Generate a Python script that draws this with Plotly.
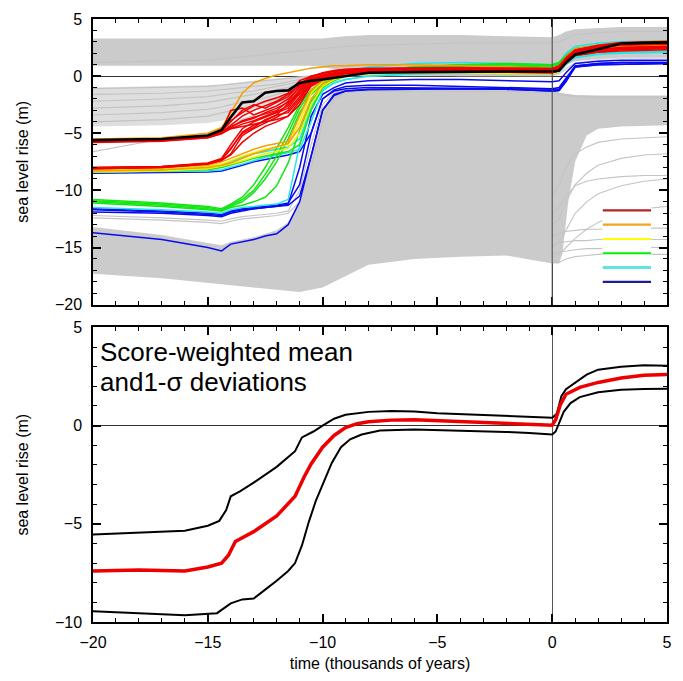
import plotly.graph_objects as go

# ---------------- data (time in thousands of years) ----------------
T = [-20, -17, -15, -14.4, -14.0, -13.5, -13, -12.5, -12, -11.5, -11, -10.5, -10,
     -9.5, -9, -8, -6, -4, -2, 0, 0.3, 0.6, 1, 2, 3, 5]

# best-scoring run (black)
BEST = [-5.6, -5.5, -5.2, -4.7, -3.6, -2.3, -2.2, -1.45, -1.3, -1.25, -0.6, -0.4, -0.3,
        -0.15, 0.0, 0.3, 0.35, 0.4, 0.4, 0.4, 0.5, 1.2, 1.9, 2.35, 2.85, 2.95]

# scored runs, grouped by score class
RED_RUNS = [
    [-5.7, -5.6, -5.3, -4.9, -4.3, -3.5, -3.0, -2.6, -2.2, -1.6, -0.8, -0.2, 0.1,
     0.3, 0.4, 0.5, 0.6, 0.6, 0.6, 0.5, 0.7, 1.5, 2.2, 2.6, 2.9, 3.0],
    [-5.8, -5.7, -5.4, -5.0, -4.6, -4.2, -3.9, -3.5, -3.1, -2.6, -1.3, -0.5, -0.1,
     0.2, 0.35, 0.5, 0.55, 0.6, 0.55, 0.5, 0.7, 1.3, 2.0, 2.3, 2.5, 2.6],
    [-5.6, -5.5, -5.2, -4.8, -3.0, -2.8, -3.4, -3.0, -2.6, -2.0, -1.0, -0.3, 0.0,
     0.2, 0.3, 0.4, 0.45, 0.45, 0.4, 0.35, 0.5, 1.2, 1.9, 2.2, 2.4, 2.5],
    [-5.7, -5.6, -5.35, -5.0, -4.6, -4.4, -4.2, -4.0, -3.8, -3.5, -2.5, -0.8, -0.3,
     0.0, 0.2, 0.3, 0.4, 0.4, 0.35, 0.3, 0.45, 1.1, 1.8, 2.1, 2.3, 2.4],
    [-5.65, -5.55, -5.25, -4.85, -3.9, -3.2, -2.6, -2.2, -1.9, -1.5, -0.4, 0.0, 0.2,
     0.4, 0.5, 0.6, 0.7, 0.7, 0.7, 0.7, 0.9, 1.6, 2.3, 2.7, 2.95, 3.05],
    [-5.75, -5.65, -5.4, -5.05, -4.5, -3.9, -3.6, -3.3, -3.0, -2.2, -0.9, -0.1, 0.3,
     0.5, 0.6, 0.7, 0.75, 0.75, 0.7, 0.65, 0.85, 1.6, 2.3, 2.6, 2.8, 2.9],
    [-5.6, -5.5, -5.2, -4.8, -4.0, -3.0, -2.5, -2.8, -2.3, -1.8, -0.7, 0.0, 0.25,
     0.45, 0.55, 0.65, 0.65, 0.6, 0.6, 0.55, 0.7, 1.4, 2.1, 2.5, 2.7, 2.8],
    [-5.7, -5.6, -5.3, -4.95, -4.4, -4.0, -3.7, -3.2, -2.8, -2.3, -1.6, -0.4, 0.0,
     0.2, 0.3, 0.4, 0.45, 0.45, 0.45, 0.45, 0.6, 1.3, 2.0, 2.3, 2.5, 2.6],
    [-8.0, -7.9, -7.6, -7.2, -6.0, -4.6, -4.0, -3.6, -3.2, -2.8, -1.5, -0.5, -0.1,
     0.2, 0.35, 0.5, 0.5, 0.5, 0.45, 0.4, 0.6, 1.4, 2.1, 2.5, 2.8, 2.9],
    [-8.1, -8.0, -7.7, -7.4, -6.8, -5.2, -4.6, -4.1, -3.6, -3.0, -1.8, -0.6, -0.2,
     0.1, 0.3, 0.45, 0.5, 0.5, 0.45, 0.4, 0.55, 1.2, 1.9, 2.2, 2.4, 2.5],
    [-8.05, -7.95, -7.65, -7.3, -6.4, -4.9, -4.3, -3.9, -3.4, -2.4, -1.2, -0.3, 0.0,
     0.25, 0.4, 0.6, 0.65, 0.65, 0.6, 0.6, 0.8, 1.5, 2.2, 2.6, 2.9, 3.0],
    [-8.0, -7.9, -7.65, -7.3, -6.3, -5.0, -4.5, -3.8, -3.4, -3.2, -2.0, -0.7, -0.1,
     0.2, 0.4, 0.55, 0.6, 0.6, 0.55, 0.5, 0.7, 1.5, 2.2, 2.6, 2.9, 3.0],
    [-8.1, -8.0, -7.7, -7.35, -6.9, -5.8, -5.0, -4.4, -4.0, -3.5, -2.2, -0.9, -0.3,
     0.1, 0.25, 0.35, 0.4, 0.4, 0.35, 0.3, 0.5, 1.2, 1.8, 2.1, 2.2, 2.3],
]
ORANGE_RUNS = [
    [-5.5, -5.4, -5.0, -4.5, -3.2, -1.5, -0.6, -0.2, 0.1, 0.3, 0.5, 0.7, 0.8,
     0.9, 0.9, 1.0, 1.0, 0.9, 0.8, 0.7, 0.9, 1.7, 2.4, 2.7, 2.9, 3.0],
    [-8.1, -8.0, -7.8, -7.5, -7.2, -6.8, -6.4, -6.1, -5.9, -5.7, -3.5, -1.2, -0.4,
     0.0, 0.2, 0.4, 0.5, 0.5, 0.5, 0.4, 0.6, 1.4, 2.0, 2.4, 2.6, 2.7],
    [-8.3, -8.2, -8.0, -7.8, -7.6, -7.2, -6.8, -6.5, -6.2, -5.9, -4.5, -2.0, -0.7,
     -0.2, 0.1, 0.3, 0.45, 0.45, 0.4, 0.3, 0.5, 1.2, 1.8, 2.1, 2.3, 2.4],
]
YELLOW_RUNS = [
    [-8.2, -8.1, -7.9, -7.7, -7.4, -7.0, -6.7, -6.4, -6.2, -6.0, -4.0, -1.5, -0.5,
     0.0, 0.3, 0.6, 0.7, 0.7, 0.6, 0.5, 0.8, 1.6, 2.2, 2.6, 2.9, 3.1],
    [-8.4, -8.3, -8.1, -7.9, -7.7, -7.4, -7.1, -6.8, -6.6, -6.3, -5.0, -2.5, -0.9,
     -0.3, 0.0, 0.2, 0.3, 0.3, 0.2, 0.2, 0.4, 1.2, 1.9, 2.3, 2.5, 2.6],
]
GREEN_RUNS = [
    [-8.4, -8.3, -8.2, -8.0, -7.8, -7.5, -7.2, -7.0, -6.8, -6.6, -6.0, -3.0, -1.0,
     -0.3, 0.1, 0.4, 0.7, 0.8, 0.8, 0.9, 1.1, 1.8, 2.4, 2.7, 2.8, 2.9],
    [-10.8, -11.1, -11.4, -11.6, -11.2, -10.6, -9.5, -8.0, -6.3, -4.5, -2.5, -1.2, -0.5,
     -0.1, 0.2, 0.5, 0.8, 1.0, 1.1, 1.0, 1.2, 1.8, 2.4, 2.7, 2.8, 2.9],
    [-11.0, -11.3, -11.6, -11.8, -11.4, -11.0, -10.2, -9.0, -7.5, -5.5, -3.2, -1.6, -0.7,
     -0.2, 0.1, 0.5, 0.8, 1.0, 1.0, 0.9, 1.1, 1.7, 2.3, 2.6, 2.7, 2.8],
    [-11.1, -11.4, -11.7, -11.8, -11.5, -11.3, -11.0, -10.6, -9.6, -7.6, -4.8, -2.2, -1.0,
     -0.4, 0.0, 0.4, 0.7, 0.9, 1.0, 0.9, 1.0, 1.5, 2.0, 2.3, 2.4, 2.5],
    [-10.9, -11.2, -11.5, -11.7, -11.3, -10.8, -10.0, -8.6, -7.0, -5.0, -2.8, -1.4, -0.6,
     -0.2, 0.15, 0.45, 0.75, 0.95, 1.05, 0.95, 1.15, 1.75, 2.35, 2.65, 2.75, 2.85],
]
CYAN_RUNS = [
    [-8.4, -8.35, -8.3, -8.2, -8.0, -7.7, -7.4, -7.1, -6.9, -6.7, -6.4, -4.0, -1.3,
     -0.6, -0.3, 0.0, 0.2, 0.3, 0.2, 0.2, 0.4, 1.0, 1.6, 1.9, 2.0, 2.1],
    [-11.5, -11.7, -11.9, -12.0, -11.7, -11.5, -11.4, -11.3, -11.2, -10.8, -6.0, -2.5, -1.2,
     -0.6, -0.3, 0.0, 0.2, 0.3, 0.3, 0.3, 0.5, 1.1, 1.7, 2.0, 2.1, 2.2],
    [-8.3, -8.2, -8.0, -7.8, -7.5, -7.1, -6.8, -6.6, -6.4, -6.2, -5.5, -2.8, -0.9,
     -0.2, 0.3, 0.8, 1.1, 1.2, 1.1, 1.0, 1.2, 2.0, 2.6, 2.9, 3.0, 3.1],
]
BLUE_RUNS = [
    [-8.5, -8.45, -8.4, -8.3, -8.1, -7.8, -7.5, -7.3, -7.1, -6.9, -6.6, -5.0, -2.0,
     -1.2, -0.9, -0.8, -0.8, -0.9, -1.0, -1.1, -1.0, -0.2, 0.9, 1.1, 1.2, 1.2],
    [-11.6, -11.8, -12.0, -12.1, -11.8, -11.6, -11.5, -11.4, -11.3, -11.1, -9.5, -5.0, -2.0,
     -1.3, -1.1, -1.0, -1.0, -1.05, -1.1, -1.2, -1.15, -0.3, 0.9, 1.1, 1.2, 1.2],
    [-11.9, -12.0, -12.2, -12.3, -12.0, -11.8, -11.6, -11.5, -11.4, -11.3, -10.5, -7.0, -3.0,
     -1.7, -1.3, -1.15, -1.1, -1.1, -1.15, -1.3, -1.25, -0.5, 0.8, 1.0, 1.05, 1.1],
    [-11.7, -11.9, -12.1, -12.2, -11.9, -11.7, -11.6, -11.5, -11.4, -11.2, -8.0, -3.5, -1.6,
     -1.0, -0.6, -0.4, -0.3, -0.3, -0.4, -0.5, -0.4, 0.3, 1.1, 1.3, 1.4, 1.4],
    [-13.7, -14.3, -15.0, -15.3, -14.7, -14.5, -14.3, -14.0, -13.8, -13.0, -11.0, -7.0, -3.0,
     -1.6, -1.3, -1.2, -1.15, -1.1, -1.15, -1.3, -1.25, -0.4, 0.8, 1.0, 1.05, 1.1],
]

# unscored ensemble (grey): envelopes of the dense bundles
UPPER_TOP = [3.3, 3.3, 3.3, 3.3, 3.3, 3.3, 3.3, 3.3, 3.3, 3.3, 3.3, 3.3, 3.3,
             3.4, 3.5, 3.6, 3.6, 3.6, 3.5, 3.4, 3.6, 3.9, 4.1, 4.2, 4.3, 4.3]
UPPER_BOT = [0.9, 0.9, 0.9, 0.9, 0.9, 0.9, 0.9, 0.9, 0.9, 0.9, 0.9, 0.9, 0.8,
             0.6, 0.4, 0.2, 0.1, 0.0, 0.0, 0.0, 0.3, 1.0, 1.3, 1.5, 1.6, 1.6]
MID_TOP = [-1.0, -0.9, -0.8, -0.7, -0.6, -0.5, -0.4, -0.3, -0.2, -0.1, 0.0, 0.1, 0.2,
           0.3, 0.3, 0.3, 0.3, 0.3, 0.3, 0.3, 0.4, 0.8, 1.2, 1.5, 1.6, 1.6]
MID_BOT = [-4.4, -4.3, -4.1, -3.9, -3.6, -3.3, -3.0, -2.7, -2.4, -2.0, -1.4, -0.8, -0.4,
           -0.2, 0.0, 0.0, 0.0, 0.0, 0.0, 0.0, 0.1, 0.5, 1.0, 1.3, 1.5, 1.5]
LOW_TOP = [-13.2, -13.9, -14.6, -14.8, -14.5, -14.3, -14.1, -13.8, -13.5, -12.8, -10.8, -6.8, -2.8,
           -1.5, -1.25, -1.2, -1.15, -1.15, -1.2, -1.3, -1.5, -1.6, -1.7, -1.7, -1.7, -1.7]
LOW_BOT_T = [5, 3, 2, 1.5, 1.0, 0.7, 0.45, 0.3, 0, -2, -4, -6, -8, -9, -10, -11, -12, -13, -15, -17, -20]
LOW_BOT = [-4.3, -4.4, -4.6, -5.2, -7.5, -11.0, -15.5, -16.4, -16.4, -15.7, -15.8, -16.0, -16.5,
           -17.5, -18.5, -18.9, -18.7, -18.5, -18.1, -17.7, -17.3]

GREY_RUNS = [
    [-1.1, -1.0, -0.9, -0.8, -0.7, -0.6, -0.5, -0.4, -0.3, -0.2, -0.1, 0.0, 0.1,
     0.2, 0.3, 0.4, 0.4, 0.4, 0.4, 0.4, 0.6, 1.3, 1.9, 2.3, 2.6, 2.7],
    [-1.6, -1.5, -1.3, -1.2, -1.1, -1.0, -0.9, -0.8, -0.7, -0.5, -0.3, -0.1, 0.0,
     0.1, 0.2, 0.3, 0.3, 0.3, 0.3, 0.3, 0.5, 1.2, 1.8, 2.2, 2.4, 2.5],
    [-2.2, -2.0, -1.8, -1.6, -1.5, -1.4, -1.3, -1.1, -0.9, -0.7, -0.5, -0.2, 0.0,
     0.1, 0.2, 0.3, 0.3, 0.3, 0.3, 0.3, 0.5, 1.2, 1.8, 2.2, 2.4, 2.5],
    [-2.8, -2.6, -2.3, -2.1, -2.0, -1.8, -1.6, -1.4, -1.2, -1.0, -0.6, -0.3, -0.1,
     0.0, 0.1, 0.2, 0.2, 0.2, 0.2, 0.2, 0.4, 1.1, 1.7, 2.1, 2.3, 2.4],
    [-3.4, -3.2, -2.9, -2.7, -2.5, -2.3, -2.1, -1.9, -1.6, -1.3, -0.9, -0.5, -0.2,
     0.0, 0.1, 0.2, 0.2, 0.2, 0.2, 0.2, 0.4, 1.1, 1.7, 2.1, 2.3, 2.4],
    [-4.0, -3.8, -3.5, -3.2, -3.0, -2.8, -2.6, -2.3, -2.0, -1.6, -1.1, -0.6, -0.3,
     0.0, 0.1, 0.2, 0.2, 0.2, 0.2, 0.2, 0.4, 1.1, 1.7, 2.1, 2.3, 2.4],
    [-6.6, -5.5, -5.0, -4.6, -4.2, -3.8, -3.4, -3.0, -2.6, -2.1, -1.5, -0.9, -0.5,
     -0.2, 0.0, 0.1, 0.1, 0.1, 0.1, 0.1, 0.3, 1.0, 1.6, 2.0, 2.2, 2.3],
    [1.2, 1.3, 1.4, 1.5, 1.6, 1.7, 1.8, 1.9, 2.0, 2.1, 2.2, 2.3, 2.4,
     2.5, 2.6, 2.7, 2.8, 2.9, 2.9, 2.9, 3.0, 3.3, 3.6, 3.8, 3.9, 3.9],
    [-12.2, -12.4, -12.6, -12.7, -12.5, -12.3, -12.2, -12.1, -12.0, -11.8, -10.0, -6.0, -2.5,
     -1.4, -1.2, -1.15, -1.1, -1.1, -1.15, -1.25, -1.5, -1.6, -1.7, -1.8, -1.8, -1.8],
    [-12.4, -12.6, -12.8, -12.9, -12.7, -12.5, -12.4, -12.3, -12.2, -12.0, -11.0, -8.0, -4.0,
     -2.0, -1.4, -1.3, -1.3, -1.3, -1.35, -1.4, -1.6, -1.7, -1.8, -1.9, -1.9, -1.9],
]

# grey runs that remain low after year 0
TR = [0, 0.3, 0.6, 1, 1.5, 2, 3, 4, 5]
GREY_LATE = [
    [-16.3, -16.3, -16.0, -15.8, -15.7, -15.6, -15.6, -15.6, -15.6],
    [-15.5, -15.4, -15.3, -15.2, -15.1, -15.1, -15.0, -15.0, -15.0],
    [-14.8, -14.6, -14.5, -14.4, -14.4, -14.3, -14.3, -14.3, -14.3],
    [-14.0, -13.8, -13.6, -13.5, -13.4, -13.4, -13.3, -13.3, -13.3],
    [-15.0, -14.5, -13.5, -12.0, -11.0, -10.3, -9.6, -9.2, -9.0],
    [-13.0, -12.5, -11.0, -9.5, -8.5, -7.8, -7.2, -6.9, -6.8],
    [-10.5, -9.5, -8.0, -6.8, -6.2, -5.8, -5.5, -5.4, -5.3],
    [-12.0, -11.5, -10.5, -9.6, -9.2, -9.0, -8.8, -8.7, -8.7],
    [-15.8, -15.6, -15.0, -14.2, -13.4, -12.8, -12.0, -11.6, -11.4],
]

# score-weighted mean and 1-sigma bounds (lower panel)
MEAN_T = [-20, -18, -16, -15, -14.4, -14.1, -13.8, -13.5, -13, -12, -11.2, -10.8, -10.5, -10,
          -9.5, -9, -8.5, -8, -7, -6, -5, -4, -3, -2, -1, 0, 0.15, 0.35, 0.6, 1.2, 2, 3, 4, 5]
MEAN = [-7.4, -7.35, -7.4, -7.2, -7.0, -6.6, -5.9, -5.7, -5.4, -4.6, -3.6, -2.6, -1.95, -1.1,
        -0.5, -0.1, 0.1, 0.2, 0.28, 0.3, 0.25, 0.2, 0.15, 0.08, 0.05, 0.02, 0.3, 1.05, 1.6, 1.95, 2.2, 2.42, 2.56, 2.6]
UPPER_T = [-20, -18, -16, -15, -14.5, -14.2, -14.0, -13.6, -13, -12, -11.2, -10.9, -10.4, -10,
           -9.5, -9, -8, -7, -6, -5, -4, -3, -2, -1, 0, 0.2, 0.4, 0.6, 1, 1.5, 2, 3, 4, 5]
UPPER = [-5.55, -5.45, -5.35, -5.1, -4.85, -4.3, -3.6, -3.35, -2.9, -2.1, -1.3, -0.6, -0.3, 0.0,
         0.35, 0.55, 0.7, 0.75, 0.72, 0.63, 0.58, 0.52, 0.48, 0.43, 0.4, 0.6, 1.5, 1.85, 2.2, 2.6, 2.85, 3.0, 3.07, 3.05]
LOWER_T = [-20, -18, -16, -14.6, -14.3, -14, -13.5, -13, -12.5, -12, -11.5, -11.2, -10.9, -10.6,
           -10.3, -10, -9.6, -9.2, -8.8, -8.3, -7.5, -6, -4, -2, -1, 0, 0.15, 0.3, 0.5, 0.8, 1.2, 2, 3, 4, 5]
LOWER = [-9.45, -9.55, -9.65, -9.55, -9.3, -9.05, -8.85, -8.8, -8.35, -7.9, -7.4, -7.0, -6.1, -4.9,
         -3.85, -3.0, -1.9, -1.1, -0.7, -0.45, -0.25, -0.2, -0.25, -0.32, -0.37, -0.45, -0.3, 0.1, 0.7, 1.15, 1.45, 1.7, 1.83, 1.87, 1.88]

X_TICKS = [-20, -15, -10, -5, 0, 5]
Y_TICKS_TOP = [5, 0, -5, -10, -15, -20]
Y_TICKS_BOT = [5, 0, -5, -10]

LEGEND_CLASSES = ["class 1", "class 2", "class 3", "class 4", "class 5", "class 6"]
LEGEND_COLORS = ["#b32424", "#f5a31f", "#ffff00", "#00f000", "#5fe3e3", "#1c1c96"]
LEGEND_WIDTHS = [2.2, 2.2, 2.2, 2.2, 3.0, 2.2]

GREY = "#c4c4c4"
FILLGREY = "#cbcbcb"
FONT = "Liberation Sans, Arial, sans-serif"

fig = go.Figure()

# ---- top panel: grey ensemble ----
fig.add_trace(go.Scatter(x=T + T[::-1], y=UPPER_TOP + UPPER_BOT[::-1], fill="toself",
                         fillcolor=FILLGREY, line=dict(width=0), mode="lines",
                         hoverinfo="skip", showlegend=False, xaxis="x", yaxis="y"))
fig.add_trace(go.Scatter(x=T + T[::-1], y=MID_TOP + MID_BOT[::-1], fill="toself",
                         fillcolor="rgba(200,200,200,0.6)", line=dict(width=0), mode="lines",
                         hoverinfo="skip", showlegend=False, xaxis="x", yaxis="y"))
fig.add_trace(go.Scatter(x=T + LOW_BOT_T, y=LOW_TOP + LOW_BOT, fill="toself",
                         fillcolor=FILLGREY, line=dict(width=0), mode="lines",
                         hoverinfo="skip", showlegend=False, xaxis="x", yaxis="y"))
for run in GREY_RUNS:
    fig.add_trace(go.Scatter(x=T, y=run, mode="lines", line=dict(color=GREY, width=1.2),
                             hoverinfo="skip", showlegend=False, xaxis="x", yaxis="y"))
for run in GREY_LATE:
    fig.add_trace(go.Scatter(x=TR, y=run, mode="lines", line=dict(color=GREY, width=1.1),
                             hoverinfo="skip", showlegend=False, xaxis="x", yaxis="y"))

# ---- top panel: scored runs ----
groups = [(BLUE_RUNS, "#0a0af0"), (CYAN_RUNS, "#22e6e6"), (GREEN_RUNS, "#14e614"),
          (YELLOW_RUNS, "#f2f200"), (ORANGE_RUNS, "#f5a000"), (RED_RUNS, "#f00000")]
for runs, col in groups:
    for run in runs:
        fig.add_trace(go.Scatter(x=T, y=run, mode="lines", line=dict(color=col, width=1.5),
                                 hoverinfo="skip", showlegend=False, xaxis="x", yaxis="y"))
fig.add_trace(go.Scatter(x=T, y=BEST, mode="lines", line=dict(color="black", width=2.6),
                         hoverinfo="skip", showlegend=False, xaxis="x", yaxis="y"))

# ---- legend swatches (own small axes) ----
for i, (name, col, w) in enumerate(zip(LEGEND_CLASSES, LEGEND_COLORS, LEGEND_WIDTHS)):
    fig.add_trace(go.Scatter(x=[0, 1], y=[i, i], mode="lines", name=name,
                             line=dict(color=col, width=w), hoverinfo="skip",
                             showlegend=False, xaxis="x3", yaxis="y3"))

# ---- bottom panel ----
fig.add_trace(go.Scatter(x=UPPER_T, y=UPPER, mode="lines", line=dict(color="black", width=2),
                         showlegend=False, xaxis="x2", yaxis="y2"))
fig.add_trace(go.Scatter(x=LOWER_T, y=LOWER, mode="lines", line=dict(color="black", width=2),
                         showlegend=False, xaxis="x2", yaxis="y2"))
fig.add_trace(go.Scatter(x=MEAN_T, y=MEAN, mode="lines", line=dict(color="#ee0000", width=3.5),
                         showlegend=False, xaxis="x2", yaxis="y2"))

tickfont = dict(family=FONT, size=16, color="black")
common_x = dict(range=[-20, 5], tickvals=X_TICKS, ticks="inside", ticklen=8, tickwidth=1.5,
                tickcolor="black", showline=True, linecolor="black", linewidth=1.5,
                mirror="ticks", showgrid=False, zeroline=True, zerolinecolor="#555555",
                zerolinewidth=1, ticklabelstandoff=5,
                minor=dict(dtick=1, ticks="inside", ticklen=4, tickwidth=1.2, tickcolor="black"),
                tickfont=tickfont)
common_y = dict(ticks="inside", ticklen=8, tickwidth=1.5, tickcolor="black", showline=True,
                linecolor="black", linewidth=1.5, mirror="ticks", showgrid=False,
                zeroline=True, zerolinecolor="#333333", zerolinewidth=1,
                minor=dict(dtick=1, ticks="inside", ticklen=4, tickwidth=1.2, tickcolor="black"),
                tickfont=tickfont, ticklabelstandoff=6,
                title=dict(text="sea level rise (m)", font=dict(family=FONT, size=16, color="black"),
                           standoff=22))

fig.update_layout(
    width=683, height=681,
    margin=dict(l=93, r=11, t=14, b=59),
    paper_bgcolor="white", plot_bgcolor="white",
    font=dict(family=FONT, size=16, color="black"),
    showlegend=False,
    xaxis=dict(common_x, domain=[0, 1], anchor="y", showticklabels=False),
    yaxis=dict(common_y, domain=[0.5263, 1], anchor="x", range=[-20, 5], tickvals=Y_TICKS_TOP),
    xaxis2=dict(common_x, domain=[0, 1], anchor="y2",
                title=dict(text="time (thousands of years)", font=dict(family=FONT, size=16),
                           standoff=8)),
    yaxis2=dict(common_y, domain=[0, 0.4885], anchor="x2", range=[-10, 5], tickvals=Y_TICKS_BOT),
    xaxis3=dict(domain=[0.8877, 0.9724], range=[0, 1], visible=False, anchor="y3"),
    yaxis3=dict(domain=[0.5571, 0.6896], range=[5.3, -0.3], visible=False, anchor="x3"),
    shapes=[dict(type="line", xref="x", yref="y domain", x0=0, x1=0, y0=0, y1=1,
                 line=dict(color="#444444", width=1), layer="above")],
    annotations=[
        dict(text="Score-weighted mean", xref="paper", yref="paper", x=0.009, y=0.4760,
             xanchor="left", yanchor="top", showarrow=False,
             font=dict(family=FONT, size=26, color="black")),
        dict(text="and1-σ deviations", xref="paper", yref="paper", x=0.009, y=0.4262,
             xanchor="left", yanchor="top", showarrow=False,
             font=dict(family=FONT, size=26, color="black")),
    ],
)

fig.write_html("out.html")
